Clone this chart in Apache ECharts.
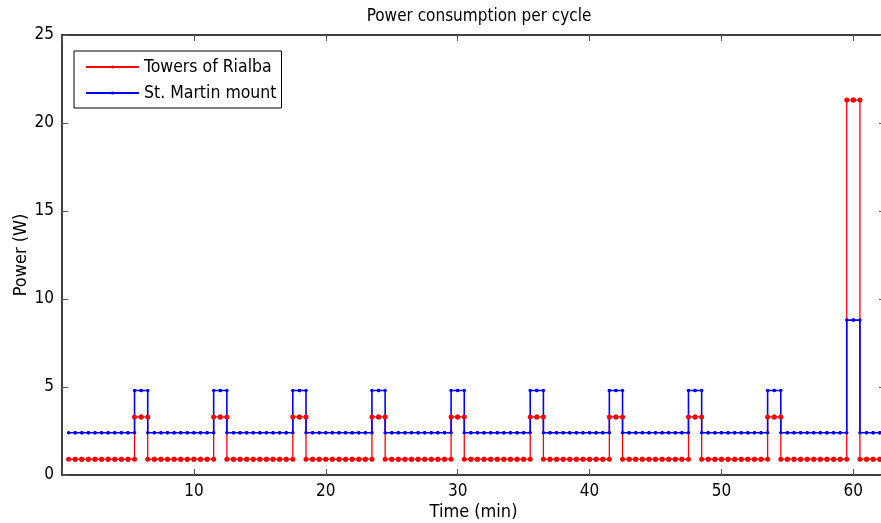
<!DOCTYPE html>
<html>
<head>
<meta charset="utf-8">
<script src="https://cdn.jsdelivr.net/npm/echarts@6/dist/echarts.min.js"></script>
<style>
html, body { margin: 0; padding: 0; background: #fff; }
#main { width: 881px; height: 523px; }
</style>
</head>
<body>
<div id="main"></div>
<script>
// sample times (min), one sample every half minute
var times = [
  0.5, 1, 1.5, 2, 2.5, 3, 3.5, 4, 4.5, 5, 5.5, 6,
  6.5, 7, 7.5, 8, 8.5, 9, 9.5, 10, 10.5, 11, 11.5, 12,
  12.5, 13, 13.5, 14, 14.5, 15, 15.5, 16, 16.5, 17, 17.5, 18,
  18.5, 19, 19.5, 20, 20.5, 21, 21.5, 22, 22.5, 23, 23.5, 24,
  24.5, 25, 25.5, 26, 26.5, 27, 27.5, 28, 28.5, 29, 29.5, 30,
  30.5, 31, 31.5, 32, 32.5, 33, 33.5, 34, 34.5, 35, 35.5, 36,
  36.5, 37, 37.5, 38, 38.5, 39, 39.5, 40, 40.5, 41, 41.5, 42,
  42.5, 43, 43.5, 44, 44.5, 45, 45.5, 46, 46.5, 47, 47.5, 48,
  48.5, 49, 49.5, 50, 50.5, 51, 51.5, 52, 52.5, 53, 53.5, 54,
  54.5, 55, 55.5, 56, 56.5, 57, 57.5, 58, 58.5, 59, 59.5, 60,
  60.5, 61, 61.5, 62
];

var rialba = [
  0.9, 0.9, 0.9, 0.9, 0.9, 0.9, 0.9, 0.9, 0.9, 0.9, 3.3, 3.3,
  0.9, 0.9, 0.9, 0.9, 0.9, 0.9, 0.9, 0.9, 0.9, 0.9, 3.3, 3.3,
  0.9, 0.9, 0.9, 0.9, 0.9, 0.9, 0.9, 0.9, 0.9, 0.9, 3.3, 3.3,
  0.9, 0.9, 0.9, 0.9, 0.9, 0.9, 0.9, 0.9, 0.9, 0.9, 3.3, 3.3,
  0.9, 0.9, 0.9, 0.9, 0.9, 0.9, 0.9, 0.9, 0.9, 0.9, 3.3, 3.3,
  0.9, 0.9, 0.9, 0.9, 0.9, 0.9, 0.9, 0.9, 0.9, 0.9, 3.3, 3.3,
  0.9, 0.9, 0.9, 0.9, 0.9, 0.9, 0.9, 0.9, 0.9, 0.9, 3.3, 3.3,
  0.9, 0.9, 0.9, 0.9, 0.9, 0.9, 0.9, 0.9, 0.9, 0.9, 3.3, 3.3,
  0.9, 0.9, 0.9, 0.9, 0.9, 0.9, 0.9, 0.9, 0.9, 0.9, 3.3, 3.3,
  0.9, 0.9, 0.9, 0.9, 0.9, 0.9, 0.9, 0.9, 0.9, 0.9, 21.3, 21.3,
  0.9, 0.9, 0.9, 0.9
];

var martin = [
  2.4, 2.4, 2.4, 2.4, 2.4, 2.4, 2.4, 2.4, 2.4, 2.4, 4.8, 4.8,
  2.4, 2.4, 2.4, 2.4, 2.4, 2.4, 2.4, 2.4, 2.4, 2.4, 4.8, 4.8,
  2.4, 2.4, 2.4, 2.4, 2.4, 2.4, 2.4, 2.4, 2.4, 2.4, 4.8, 4.8,
  2.4, 2.4, 2.4, 2.4, 2.4, 2.4, 2.4, 2.4, 2.4, 2.4, 4.8, 4.8,
  2.4, 2.4, 2.4, 2.4, 2.4, 2.4, 2.4, 2.4, 2.4, 2.4, 4.8, 4.8,
  2.4, 2.4, 2.4, 2.4, 2.4, 2.4, 2.4, 2.4, 2.4, 2.4, 4.8, 4.8,
  2.4, 2.4, 2.4, 2.4, 2.4, 2.4, 2.4, 2.4, 2.4, 2.4, 4.8, 4.8,
  2.4, 2.4, 2.4, 2.4, 2.4, 2.4, 2.4, 2.4, 2.4, 2.4, 4.8, 4.8,
  2.4, 2.4, 2.4, 2.4, 2.4, 2.4, 2.4, 2.4, 2.4, 2.4, 4.8, 4.8,
  2.4, 2.4, 2.4, 2.4, 2.4, 2.4, 2.4, 2.4, 2.4, 2.4, 8.8, 8.8,
  2.4, 2.4, 2.4, 2.4
];

var xTicks = [10, 20, 30, 40, 50, 60];

// matlab style stairs: markers on both corners of every step
function stairs(xs, ys) {
    var out = [];
    for (var i = 0; i < xs.length; i++) {
        if (i > 0) out.push([xs[i], ys[i - 1]]);
        out.push([xs[i], ys[i]]);
    }
    return out;
}

var font = "'DejaVu Sans Condensed', 'DejaVu Sans'";
var tickStyle = { show: true, inside: true, length: 6, lineStyle: { color: '#555', width: 1 } };
var lineStyle = { show: true, onZero: false, lineStyle: { color: '#000', width: 1.5 } };

var myChart = echarts.init(document.getElementById('main'));
myChart.setOption({
    animation: false,
    title: {
        text: 'Power consumption per cycle',
        left: 474,
        top: 3,
        textAlign: 'center',
        textStyle: { fontFamily: font, fontSize: 17, fontWeight: 'normal', color: '#000' }
    },
    legend: {
        left: 74,
        top: 51,
        orient: 'vertical',
        backgroundColor: '#fff',
        borderColor: '#000',
        borderWidth: 1,
        padding: [7, 5, 6, 11],
        itemGap: 8,
        itemWidth: 53,
        itemHeight: 4,
        textStyle: { fontFamily: font, fontSize: 17.5, color: '#000' },
        data: ['Towers of Rialba', 'St. Martin mount']
    },
    grid: { left: 62, right: -4, top: 35, bottom: 48, outerBoundsMode: 'none' },
    xAxis: [{
        type: 'value',
        min: 0,
        max: 62.4,
        interval: 10,
        name: 'Time (min)',
        nameLocation: 'middle',
        nameGap: 28,
        nameMoveOverlap: false,
        nameTextStyle: { fontFamily: font, fontSize: 18, color: '#000' },
        axisLine: lineStyle,
        axisTick: tickStyle,
        splitLine: { show: false },
        axisLabel: {
            fontFamily: font, fontSize: 17, color: '#000', margin: 8,
            formatter: function (v) { return xTicks.indexOf(v) >= 0 ? String(v) : ''; }
        }
    }, {
        type: 'value',
        position: 'top',
        min: 0,
        max: 62.4,
        interval: 10,
        axisLine: lineStyle,
        axisTick: tickStyle,
        splitLine: { show: false },
        axisLabel: { show: false }
    }],
    yAxis: [{
        type: 'value',
        min: 0,
        max: 25,
        interval: 5,
        name: 'Power (W)',
        nameLocation: 'middle',
        nameRotate: 90,
        nameGap: 32,
        nameMoveOverlap: false,
        nameTextStyle: { fontFamily: font, fontSize: 18, color: '#000' },
        axisLine: lineStyle,
        axisTick: tickStyle,
        splitLine: { show: false },
        axisLabel: { fontFamily: font, fontSize: 17, color: '#000', margin: 8 }
    }, {
        type: 'value',
        position: 'right',
        min: 0,
        max: 25,
        interval: 5,
        axisLine: lineStyle,
        axisTick: tickStyle,
        splitLine: { show: false },
        axisLabel: { show: false }
    }],
    series: [{
        name: 'Towers of Rialba',
        type: 'line',
        data: stairs(times, rialba),
        symbol: 'circle',
        symbolSize: 5,
        showAllSymbol: true,
        itemStyle: { color: '#ff0000' },
        lineStyle: { color: '#ff0000', width: 1.3 }
    }, {
        name: 'St. Martin mount',
        type: 'line',
        data: stairs(times, martin),
        symbol: 'circle',
        symbolSize: 3.5,
        showAllSymbol: true,
        itemStyle: { color: '#0000ff' },
        lineStyle: { color: '#0000ff', width: 1.6 }
    }]
});
</script>
</body>
</html>
